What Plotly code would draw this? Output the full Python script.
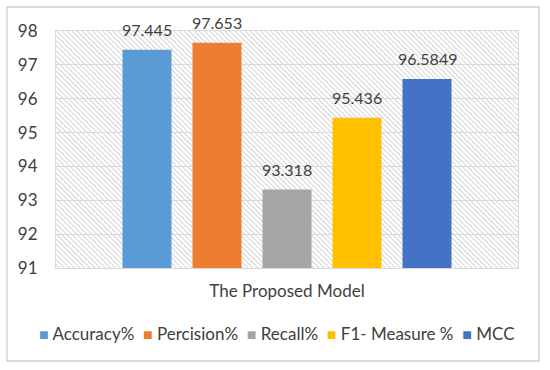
import base64
import plotly.graph_objects as go

category = ["The Proposed Model"]
series_names = ["Accuracy%", "Percision%", "Recall%", "F1- Measure %", "MCC"]
series_values = [97.445, 97.653, 93.318, 95.436, 96.5849]
series_labels = ["97.445", "97.653", "93.318", "95.436", "96.5849"]
series_colors = ["#5B9BD5", "#ED7D31", "#A5A5A5", "#FFC000", "#4472C4"]
y_ticks = [91, 92, 93, 94, 95, 96, 97, 98]

W, H = 550, 370
ML, MR, MT, MB = 56, 32, 31, 102
PW, PH = W - ML - MR, H - MT - MB

FONT = "Lato"
TXT = "#404040"
BARGAP = 0.2424
GROUPGAP = 0.3

fig = go.Figure()
n = len(series_names)
slot = (1 - BARGAP) / n
annotations = []
for i, (name, val, lab, col) in enumerate(zip(series_names, series_values, series_labels, series_colors)):
    fig.add_trace(go.Bar(
        x=category, y=[val], name=name,
        marker=dict(color=col, line=dict(width=0)),
        hoverinfo="name+y",
    ))
    annotations.append(dict(
        xref="x", yref="y", x=-(1 - BARGAP) / 2 + slot * (i + 0.5), y=val,
        text=lab, showarrow=False, yanchor="bottom", yshift=9,
        font=dict(family=FONT, size=16, color=TXT),
    ))

# legend written as one centred line of text, Excel style
legend_text = "&nbsp;&nbsp;".join(
    f'<span style="color:{c};font-size:16px">■</span> {nm}'
    for nm, c in zip(series_names, series_colors)
)
annotations.append(dict(
    xref="paper", yref="paper", x=(277 - ML) / PW, y=(MT + PH - 333) / PH,
    xanchor="center", yanchor="middle", showarrow=False, text=legend_text,
    font=dict(family=FONT, size=17, color=TXT),
))

# hatched plot-area background
svg = (
    f'<svg xmlns="http://www.w3.org/2000/svg" width="{PW}" height="{PH}">'
    '<defs><pattern id="p" width="3.6" height="3.6" patternUnits="userSpaceOnUse" '
    'patternTransform="rotate(-45)"><line x1="0.5" y1="0" x2="0.5" y2="3.6" '
    'stroke="#d3d3d3" stroke-width="1"/></pattern></defs>'
    f'<rect width="{PW}" height="{PH}" fill="white"/>'
    f'<rect width="{PW}" height="{PH}" fill="url(#p)"/></svg>'
)
src = "data:image/svg+xml;base64," + base64.b64encode(svg.encode()).decode()

fig.update_layout(
    template="none",
    width=W, height=H,
    margin=dict(l=ML, r=MR, t=MT, b=MB, autoexpand=False),
    paper_bgcolor="white",
    plot_bgcolor="rgba(0,0,0,0)",
    barmode="group",
    bargap=BARGAP,
    bargroupgap=GROUPGAP,
    font=dict(family=FONT, color=TXT),
    showlegend=False,
    annotations=annotations,
    images=[dict(
        source=src, xref="paper", yref="paper", x=0, y=1, sizex=1, sizey=1,
        xanchor="left", yanchor="top", sizing="stretch", layer="below",
    )],
    shapes=[dict(
        type="rect", xref="paper", yref="paper",
        x0=(7 - ML) / PW, x1=(539 - ML) / PW,
        y0=(MT + PH - 361) / PH, y1=(MT + PH - 7) / PH,
        line=dict(color="#d0d0d0", width=1.3), fillcolor="rgba(0,0,0,0)",
        layer="above",
    )],
)
fig.update_yaxes(
    range=[91, 98], tickvals=y_ticks, ticktext=[str(t) for t in y_ticks],
    showgrid=True, gridcolor="#d9d9d9", gridwidth=1,
    showline=True, linecolor="#d9d9d9", mirror=True, zeroline=False,
    tickfont=dict(family=FONT, size=17, color=TXT),
    ticks="", ticklabelstandoff=14, automargin=False,
)
fig.update_xaxes(
    showline=True, linecolor="#d9d9d9", mirror=True, showgrid=False,
    tickfont=dict(family=FONT, size=17, color=TXT),
    ticks="", ticklabelstandoff=8, automargin=False,
)

fig.write_html(
    "out.html",
    config={"displayModeBar": False},
    post_script="document.body.style.margin='0';",
)
